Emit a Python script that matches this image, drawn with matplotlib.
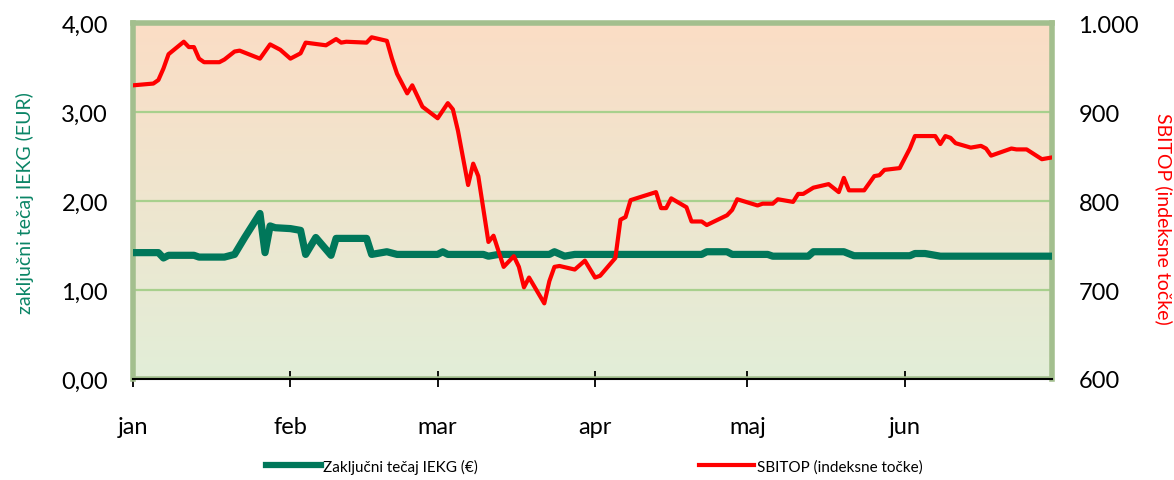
import matplotlib
matplotlib.use("Agg")
import matplotlib.pyplot as plt
from matplotlib.colors import LinearSegmentedColormap
from matplotlib.lines import Line2D
from matplotlib.ticker import FuncFormatter
import numpy as np
import pandas as pd

plt.rcParams['font.family'] = ['Lato', 'DejaVu Sans']

# zaključni tečaj IEKG (EUR)
ekg_dates = ['2020-01-01', '2020-01-06', '2020-01-07', '2020-01-08', '2020-01-13', '2020-01-14',
             '2020-01-19', '2020-01-21', '2020-01-23', '2020-01-26', '2020-01-27', '2020-01-28',
             '2020-01-29', '2020-02-01', '2020-02-03', '2020-02-04', '2020-02-06', '2020-02-09',
             '2020-02-10', '2020-02-16', '2020-02-17', '2020-02-20', '2020-02-22', '2020-03-01',
             '2020-03-02', '2020-03-03', '2020-03-10', '2020-03-11', '2020-03-13', '2020-03-23',
             '2020-03-24', '2020-03-26', '2020-03-28', '2020-04-22', '2020-04-23', '2020-04-27',
             '2020-04-28', '2020-05-05', '2020-05-06', '2020-05-13', '2020-05-14', '2020-05-20',
             '2020-05-22', '2020-06-02', '2020-06-03', '2020-06-05', '2020-06-08', '2020-06-30']
ekg_values = [1.42, 1.42, 1.36, 1.39, 1.39, 1.37,
              1.37, 1.40, 1.59, 1.86, 1.42, 1.72,
              1.70, 1.69, 1.67, 1.40, 1.59, 1.39,
              1.58, 1.58, 1.40, 1.43, 1.40, 1.40,
              1.43, 1.40, 1.40, 1.38, 1.40, 1.40,
              1.43, 1.38, 1.40, 1.40, 1.43, 1.43,
              1.40, 1.40, 1.38, 1.38, 1.43, 1.43,
              1.385, 1.385, 1.41, 1.41, 1.38, 1.38]

# SBITOP (indeksne točke)
sbitop_dates = ['2020-01-01', '2020-01-05', '2020-01-06', '2020-01-07', '2020-01-08', '2020-01-11',
                '2020-01-12', '2020-01-13', '2020-01-14', '2020-01-15', '2020-01-18', '2020-01-19',
                '2020-01-21', '2020-01-22', '2020-01-26', '2020-01-28', '2020-01-30', '2020-02-01',
                '2020-02-03', '2020-02-04', '2020-02-08', '2020-02-10', '2020-02-11', '2020-02-12',
                '2020-02-16', '2020-02-17', '2020-02-20', '2020-02-21', '2020-02-22', '2020-02-24',
                '2020-02-25', '2020-02-27', '2020-03-01', '2020-03-03', '2020-03-04', '2020-03-05',
                '2020-03-07', '2020-03-08', '2020-03-09', '2020-03-11', '2020-03-12', '2020-03-14',
                '2020-03-16', '2020-03-17', '2020-03-18', '2020-03-19', '2020-03-22', '2020-03-23',
                '2020-03-24', '2020-03-25', '2020-03-28', '2020-03-30', '2020-04-01', '2020-04-02',
                '2020-04-05', '2020-04-06', '2020-04-07', '2020-04-08', '2020-04-13', '2020-04-14',
                '2020-04-15', '2020-04-16', '2020-04-19', '2020-04-20', '2020-04-22', '2020-04-23',
                '2020-04-27', '2020-04-28', '2020-04-29', '2020-05-03', '2020-05-04', '2020-05-06',
                '2020-05-07', '2020-05-10', '2020-05-11', '2020-05-12', '2020-05-14', '2020-05-17',
                '2020-05-19', '2020-05-20', '2020-05-21', '2020-05-24', '2020-05-26', '2020-05-27',
                '2020-05-28', '2020-05-31', '2020-06-02', '2020-06-03', '2020-06-07', '2020-06-08',
                '2020-06-09', '2020-06-10', '2020-06-11', '2020-06-14', '2020-06-16', '2020-06-17',
                '2020-06-18', '2020-06-22', '2020-06-23', '2020-06-25', '2020-06-28', '2020-06-30']
sbitop_values = [930, 932, 936, 949, 965, 979,
                 973, 973, 960, 956, 956, 959,
                 968, 969, 960, 976, 970, 960,
                 966, 978, 975, 982, 978, 979,
                 978, 984, 980, 960, 943, 921,
                 930, 906, 893, 910, 903, 879,
                 818, 842, 828, 754, 761, 726,
                 738, 726, 703, 714, 685, 710,
                 726, 727, 723, 733, 714, 716,
                 736, 779, 782, 801, 810, 792,
                 792, 803, 793, 777, 777, 773,
                 784, 790, 802, 795, 797, 797,
                 802, 799, 808, 808, 815, 819,
                 810, 826, 812, 812, 828, 829,
                 835, 837, 859, 873, 873, 864,
                 873, 871, 865, 860, 862, 859,
                 851, 859, 858, 858, 847, 849]

month_starts = ['2020-01-01', '2020-02-01', '2020-03-01', '2020-04-01', '2020-05-01', '2020-06-01']
month_labels = ['jan', 'feb', 'mar', 'apr', 'maj', 'jun']

green = '#00775A'
red = '#FF0000'
frame = '#A3BF8E'

fig = plt.figure(figsize=(11.74, 4.81), dpi=100)
ax1 = fig.add_axes([0.1133, 0.21, 0.7828, 0.74])
ax2 = ax1.twinx()

# gradient background (green at bottom -> peach at top)
cmap = LinearSegmentedColormap.from_list('bg', ['#E2EED8', '#FBDDC5'])
grad = np.linspace(0, 1, 256).reshape(-1, 1)
ax1.patch.set_visible(False)
ax1.imshow(grad, cmap=cmap, origin='lower', aspect='auto', extent=[0, 1, 0, 1],
           transform=ax1.transAxes, zorder=0)

for v in [1, 2, 3]:
    ax1.axhline(v, color='#A8D08D', lw=1.6, zorder=1)

ax1.plot(pd.to_datetime(ekg_dates), ekg_values, color=green, lw=5.2,
         solid_joinstyle='round', solid_capstyle='round', zorder=3)
ax2.plot(pd.to_datetime(sbitop_dates), sbitop_values, color=red, lw=3,
         solid_joinstyle='round', solid_capstyle='round', zorder=3)

ax1.set_xlim(pd.Timestamp('2020-01-01'), pd.Timestamp('2020-06-30'))
ax1.set_ylim(0, 4)
ax2.set_ylim(600, 1000)

ax1.set_yticks([0, 1, 2, 3, 4])
ax1.yaxis.set_major_formatter(FuncFormatter(lambda v, p: f'{v:.2f}'.replace('.', ',')))
ax2.set_yticks([600, 700, 800, 900, 1000])
ax2.yaxis.set_major_formatter(FuncFormatter(lambda v, p: f'{int(v):,}'.replace(',', '.')))
ax1.tick_params(axis='y', length=0, pad=18, labelsize=17)
ax2.tick_params(axis='y', length=0, pad=19, labelsize=17)

ax1.set_xticks(pd.to_datetime(month_starts))
ax1.set_xticklabels(month_labels)
ax1.tick_params(axis='x', direction='inout', length=12, width=1.3, pad=21, labelsize=17)

for s in ['left', 'top', 'right']:
    ax1.spines[s].set_color(frame)
    ax1.spines[s].set_linewidth(4)
ax1.spines['bottom'].set_color('black')
ax1.spines['bottom'].set_linewidth(1.5)
for s in ax2.spines.values():
    s.set_visible(False)
ax1.axhline(0, color=frame, lw=4, zorder=2)

fig.text(0.021, 0.578, 'zaključni tečaj IEKG (EUR)', rotation=90, ha='center', va='center',
         color='#0B8566', fontsize=14)
fig.text(0.991, 0.545, 'SBITOP (indeksne točke)', rotation=270, ha='center', va='center',
         color=red, fontsize=14)

handles = [Line2D([], [], color=green, lw=4.5), Line2D([], [], color=red, lw=3)]
fig.legend(handles, ['Zaključni tečaj IEKG (€)', 'SBITOP (indeksne točke)'],
           loc='center', bbox_to_anchor=(0.506, 0.029), ncol=2, frameon=False,
           fontsize=11, handlelength=3.6, handletextpad=0.15, columnspacing=14.5)

fig.savefig('out.png', dpi=100)
